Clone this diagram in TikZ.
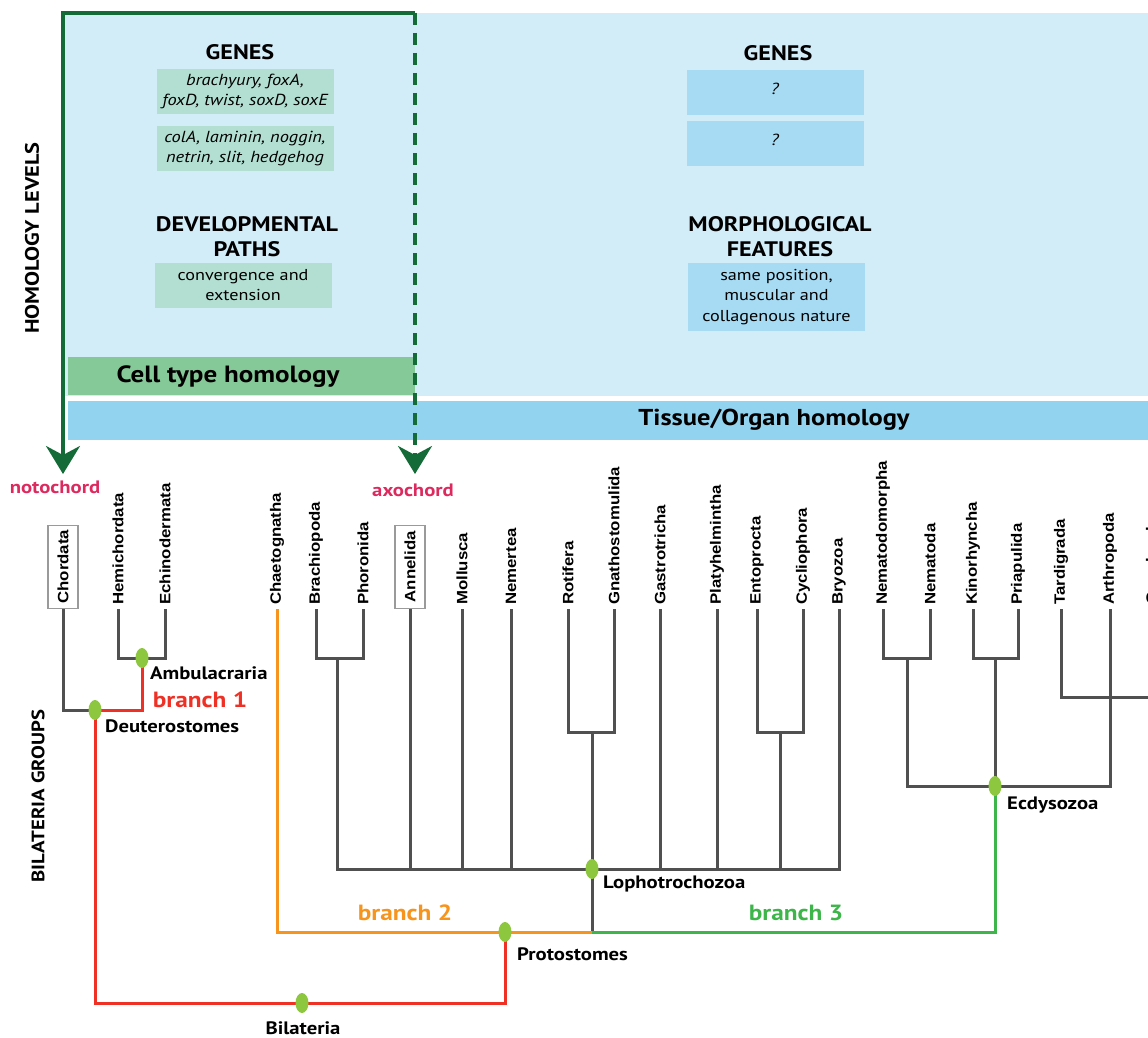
\documentclass[tikz,border=0pt]{standalone}
\usepackage{fontspec}
\usepackage{graphicx}
\setmainfont{PT Sans}[FakeStretch=1.15]
\newfontfamily\taxfont{Liberation Sans}
\usetikzlibrary{arrows.meta,shapes.geometric}
\definecolor{bglight}{HTML}{D2ECF8}
\definecolor{tissueband}{HTML}{92D4EF}
\definecolor{cellband}{HTML}{85C998}
\definecolor{gboxc}{HTML}{B3DFD2}
\definecolor{bboxc}{HTML}{A6DBF3}
\definecolor{framegreen}{HTML}{146B37}
\definecolor{pinkc}{HTML}{DD2A5E}
\definecolor{redb}{HTML}{EE3124}
\definecolor{orangeb}{HTML}{F7941E}
\definecolor{greenb}{HTML}{3DB54A}
\definecolor{dotc}{HTML}{8DC63F}
\definecolor{treegray}{HTML}{505050}
\definecolor{boxgray}{HTML}{9A9A9A}
\newcommand\stretchtx[1]{\scalebox{1.12}[1]{#1}}
\begin{document}
\begin{tikzpicture}[x=1pt,y=-1pt,
  head/.style={font=\bfseries\fontsize{21}{25}\selectfont, align=center, inner sep=0pt},
  gbox/.style={fill=gboxc, minimum width=177pt, minimum height=45pt, align=center, inner sep=0pt, font=\itshape\fontsize{16}{19.5}\selectfont},
  bbox/.style={fill=bboxc, minimum width=177pt, minimum height=45pt, align=center, inner sep=0pt, font=\fontsize{15.8}{20.5}\selectfont},
  tax/.style={rotate=90, anchor=west, inner xsep=4pt, inner ysep=0pt, font=\taxfont\bfseries\fontsize{15}{17}\selectfont},
  taxbox/.style={tax, draw=boxgray, line width=1.5pt, minimum width=83pt, minimum height=30pt},
  tree/.style={draw=treegray, line width=3pt},
  bred/.style={draw=redb, line width=3pt},
  borange/.style={draw=orangeb, line width=3pt},
  bgreen/.style={draw=greenb, line width=3pt},
  dot/.style={ellipse, fill=dotc, minimum width=13pt, minimum height=20pt, inner sep=0pt},
  grp/.style={font=\bfseries\fontsize{18}{20}\selectfont, anchor=west, inner sep=0pt},
  brl/.style={font=\bfseries\fontsize{22}{24}\selectfont, inner sep=0pt},
  frame/.style={draw=framegreen, line width=3.3pt},
  side/.style={rotate=90, font=\bfseries\fontsize{19.5}{22}\selectfont, inner sep=0pt}
]
\useasboundingbox (0,0) rectangle (1148,1038);
\clip (0,0) rectangle (1148,1038);
% backgrounds
\fill[bglight] (63,13) rectangle (1148,396);
\fill[cellband] (68,357) rectangle (415,395);
\fill[tissueband] (68,401) rectangle (1148,440);
% left column contents
\node[head] (genesL) at (240,52) {GENES};
\node[gbox] (g1) at (245,91.5) {brachyury, foxA,\\ foxD, twist, soxD, soxE};
\node[gbox] (g2) at (245,148.5) {colA, laminin, noggin,\\ netrin, slit, hedgehog};
\node[head] (devp) at (247,237) {DEVELOPMENTAL\\PATHS};
\node[gbox, font=\fontsize{15.8}{20.5}\selectfont] (g3) at (243,285) {convergence and\\ extension};
\node[font=\bfseries\fontsize{23.5}{28}\selectfont, inner sep=0pt] (cell) at (228,377) {Cell type homology};
% right column contents
\node[head] (genesR) at (778,53) {GENES};
\node[bbox, font=\itshape\fontsize{16}{20}\selectfont] (b1) at (775,92.5) {\raisebox{7pt}{?}};
\node[bbox, font=\itshape\fontsize{16}{20}\selectfont] (b2) at (775,143.5) {\raisebox{7pt}{?}};
\node[head] (morph) at (780,237) {MORPHOLOGICAL\\FEATURES};
\node[bbox, minimum height=68pt] (b3) at (776.5,297) {same position,\\ muscular and\\ collagenous nature};
\node[font=\bfseries\fontsize{23}{28}\selectfont, inner sep=0pt] (tissue) at (774,420) {Tissue/Organ homology};
% side labels
\node[side] (homlev) at (32,238) {HOMOLOGY LEVELS};
\node[side, font=\bfseries\fontsize{18}{22}\selectfont] (bilgr) at (38,796) {BILATERIA GROUPS};
% frame with arrows
\coordinate (ftr) at (415,13);
\coordinate (ltip) at (63,474);
\coordinate (rtip) at (415,474);
\draw[frame, {Stealth[length=28pt, width=34pt, inset=9pt]}-] (ltip) |- (ftr);
\draw[frame, dash pattern=on 12pt off 8pt, -{Stealth[length=28pt, width=34pt, inset=9pt]}] (ftr) -- (rtip);
\node[font=\bfseries\fontsize{18}{20}\selectfont, text=pinkc, inner sep=0pt] (noto) at (55,487) {notochord};
\node[font=\bfseries\fontsize{18}{20}\selectfont, text=pinkc, inner sep=0pt] (axo) at (413,490) {axochord};
% taxa
\node[taxbox] (chor) at (63,609) {\stretchtx{Chordata}};
\node[tax] (hemi) at (118,609) {\stretchtx{Hemichordata}};
\node[tax] (echi) at (165,609) {\stretchtx{Echinodermata}};
\node[tax] (chae) at (277,609) {\stretchtx{Chaetognatha}};
\node[tax] (brac) at (316,609) {\stretchtx{Brachiopoda}};
\node[tax] (phor) at (363,609) {\stretchtx{Phoronida}};
\node[taxbox] (anne) at (410,609) {\stretchtx{Annelida}};
\node[tax] (moll) at (462,609) {\stretchtx{Mollusca}};
\node[tax] (neme) at (511,609) {\stretchtx{Nemertea}};
\node[tax] (roti) at (568,609) {\stretchtx{Rotifera}};
\node[tax] (gnat) at (614,609) {\stretchtx{Gnathostomulida}};
\node[tax] (gast) at (660,609) {\stretchtx{Gastrotricha}};
\node[tax] (plat) at (717,609) {\stretchtx{Platyhelmintha}};
\node[tax] (ento) at (757,609) {\stretchtx{Entoprocta}};
\node[tax] (cycl) at (803,609) {\stretchtx{Cycliophora}};
\node[tax] (bryo) at (839,609) {\stretchtx{Bryozoa}};
\node[tax] (nemm) at (883,609) {\stretchtx{Nematodomorpha}};
\node[tax] (nema) at (930,609) {\stretchtx{Nematoda}};
\node[tax] (kino) at (973,609) {\stretchtx{Kinorhyncha}};
\node[tax] (pria) at (1018,609) {\stretchtx{Priapulida}};
\node[tax] (tard) at (1061,609) {\stretchtx{Tardigrada}};
\node[tax] (arth) at (1110,609) {\stretchtx{Arthropoda}};
\node[tax] (onyc) at (1153,609) {\stretchtx{Onychophora}};
% junctions
\coordinate (jdeu) at (95,710);
\coordinate (jamb) at (142,658);
\coordinate (jbil) at (302,1003);
\coordinate (jpro) at (505,932);
\coordinate (jlop) at (592,869);
\coordinate (jecd) at (995,786);
\coordinate (jbp) at (337,658);
\coordinate (jrg) at (592,732);
\coordinate (jec) at (780,732);
\coordinate (jnn) at (907,658);
\coordinate (jkp) at (995,658);
\coordinate (jta) at (1153,697);
\coordinate (jlb) at (592,932);
% gray tree
\draw[tree] (chor.west) |- (jdeu);
\draw[tree] (hemi.west) |- (jamb) -| (echi.west);
\draw[tree] (brac.west) |- (jbp) -| (phor.west);
\draw[tree] (jbp) |- (jlop) -| (bryo.west);
\draw[tree] (anne.west) -- (anne.west |- jlop);
\draw[tree] (moll.west) -- (moll.west |- jlop);
\draw[tree] (neme.west) -- (neme.west |- jlop);
\draw[tree] (gast.west) -- (gast.west |- jlop);
\draw[tree] (plat.west) -- (plat.west |- jlop);
\draw[tree] (roti.west) |- (jrg) -| (gnat.west);
\draw[tree] (jrg) -- (jlb);
\draw[tree] (ento.west) |- (jec) -| (cycl.west);
\draw[tree] (jec) -- (jec |- jlop);
\draw[tree] (nemm.west) |- (jnn) -| (nema.west);
\draw[tree] (kino.west) |- (jkp) -| (pria.west);
\draw[tree] (jnn) |- (jecd) -| (arth.west);
\draw[tree] (jkp) -- (jecd);
\draw[tree] (tard.west) |- (jta) -- (onyc.west);
% coloured branches
\draw[bred] (jamb) |- (jdeu);
\draw[bred] (jdeu) |- (jbil) -| (jpro);
\draw[borange] (chae.west) |- (jpro) -- (jlb);
\draw[bgreen] (jlb) -| (jecd);
% dots
\node[dot] (damb) at (jamb) {};
\node[dot] (ddeu) at (jdeu) {};
\node[dot] (dbil) at (jbil) {};
\node[dot] (dpro) at (jpro) {};
\node[dot] (dlop) at (jlop) {};
\node[dot] (decd) at (jecd) {};
% group labels
\node[grp] (lamb) at (150,673) {Ambulacraria};
\node[grp] (ldeu) at (105,726) {Deuterostomes};
\node[grp, anchor=center] (lbil) at (303,1028) {Bilateria};
\node[grp] (lpro) at (517,954) {Protostomes};
\node[grp] (llop) at (603,884) {Lophotrochozoa};
\node[grp] (lecd) at (1007,805) {Ecdysozoa};
\node[brl, text=redb] (br1) at (200,700) {branch 1};
\node[brl, text=orangeb] (br2) at (405,913) {branch 2};
\node[brl, text=greenb] (br3) at (796,913) {branch 3};
\end{tikzpicture}
\end{document}
